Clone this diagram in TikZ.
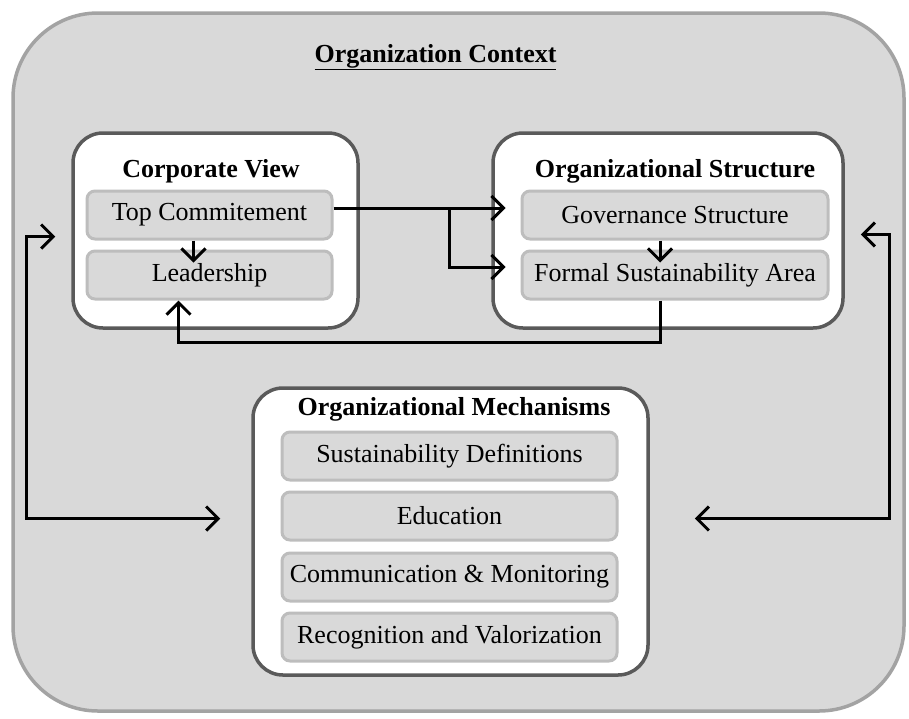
\documentclass[tikz,border=0pt]{standalone}
\usepackage{fontspec}
\setmainfont{Liberation Serif}
\usetikzlibrary{arrows.meta}

\definecolor{ctxfill}{HTML}{D9D9D9}
\definecolor{ctxline}{HTML}{A3A3A3}
\definecolor{grpline}{HTML}{5A5A5A}
\definecolor{itemline}{HTML}{BDBDBD}

\tikzset{
    group/.style={draw=grpline, line width=3.5pt, fill=white, rounded corners=30pt},
    item/.style={draw=itemline, line width=3pt, fill=ctxfill, rounded corners=8pt,
                 inner sep=0pt, minimum height=48pt},
    head/.style={font=\fontsize{26}{30}\selectfont\bfseries, anchor=base},
    link/.style={draw=black, line width=3pt, -{Straight Barb[length=12pt,width=24pt]}},
    twolink/.style={draw=black, line width=3pt, {Straight Barb[length=12pt,width=24pt]}-{Straight Barb[length=12pt,width=24pt]}},
}

\begin{document}
\begin{tikzpicture}[x=1pt,y=-1pt,every node/.style={font=\fontsize{26}{30}\selectfont}]
    \useasboundingbox (0,0) rectangle (909,718);

    % outer context
    \node[draw=ctxline, line width=3.5pt, fill=ctxfill, rounded corners=85pt,
          minimum width=891pt, minimum height=698pt] (ctx) at (458.5,362) {};
    \node[head] (ctxtitle) at (435.5,62) {\underline{Organization Context}};

    % the three groups
    \node[group, minimum width=285pt, minimum height=195pt] (corp) at (215.5,230.5) {};
    \node[group, minimum width=350pt, minimum height=195pt] (struct) at (668,230.5) {};
    \node[group, minimum width=395pt, minimum height=287pt] (mech) at (450.5,531.5) {};

    \node[head] (corptitle) at (211,177) {Corporate View};
    \node[head] (structtitle) at (675,177) {Organizational Structure};
    \node[head] (mechtitle) at (454,415) {Organizational Mechanisms};

    % items
    \node[item, minimum width=245pt] (top) at (209.5,215) {Top Commitement};
    \node[item, minimum width=245pt] (lead) at (209.5,275) {Leadership};
    \node[item, minimum width=306pt] (gov) at (675,215) {Governance Structure};
    \node[item, minimum width=306pt] (formal) at (675,275) {Formal Sustainability Area};
    \node[item, minimum width=335pt] (sdef) at (449.5,456) {Sustainability Definitions};
    \node[item, minimum width=335pt] (edu) at (449.5,516) {Education};
    \node[item, minimum width=335pt] (comm) at (449.5,577) {Communication \& Monitoring};
    \node[item, minimum width=335pt] (recog) at (449.5,637) {Recognition and Valorization};

    % arrows inside the groups
    \draw[link] ([xshift=-16pt]top.south) -- ([xshift=-16pt,yshift=-13pt]lead.north);
    \draw[link] ([xshift=-15pt]gov.south) -- ([xshift=-15pt,yshift=-13pt]formal.north);

    % corporate view to structure
    \coordinate (split) at (449,208);
    \draw[link] ([yshift=7pt]top.east) -- ([xshift=-15pt,yshift=7pt]gov.west);
    \draw[link] (split) |- ([xshift=-15pt,yshift=8pt]formal.west);

    % back loop
    \draw[link] ([xshift=-15pt]formal.south) -- ++(0,42) -| ([xshift=-31pt]lead.south);

    % mechanisms to both sides
    \draw[twolink] ([xshift=-16pt,yshift=-6pt]corp.west) -- ++(-29,0) |- ([xshift=-31pt,yshift=13pt]mech.west);
    \draw[twolink] ([xshift=16pt,yshift=-4pt]struct.east) -- ++(29,0) |- ([xshift=45pt,yshift=13pt]mech.east);
\end{tikzpicture}
\end{document}
